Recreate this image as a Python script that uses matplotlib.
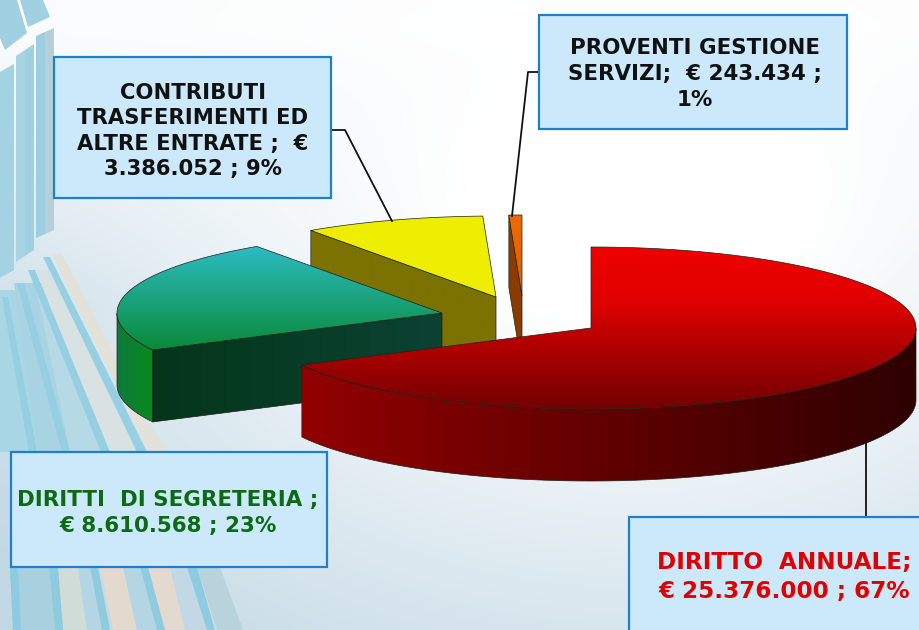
import numpy as np
import matplotlib
matplotlib.use("Agg")
import matplotlib.pyplot as plt
from matplotlib.colors import LinearSegmentedColormap
from matplotlib.patches import Polygon, Rectangle

# chart values, clockwise from 12 o'clock
categories = ["DIRITTO ANNUALE", "DIRITTI DI SEGRETERIA",
              "CONTRIBUTI TRASFERIMENTI ED ALTRE ENTRATE", "PROVENTI GESTIONE SERVIZI"]
values = [25376000, 8610568, 3386052, 243434]
labels = ["DIRITTO  ANNUALE;\n€ 25.376.000 ; 67%",
          "DIRITTI  DI SEGRETERIA ;\n€ 8.610.568 ; 23%",
          "CONTRIBUTI\nTRASFERIMENTI ED\nALTRE ENTRATE ;  €\n3.386.052 ; 9%",
          "PROVENTI GESTIONE\nSERVIZI;  € 243.434 ;\n1%"]

# layout in pixels
W, H = 919, 630
RX, RY, DEPTH = 325, 81, 72
apexes = [(591, 328), (442, 313), (496, 297), (522, 296)]
top_cols = [("#ee0000", "#e00000", "#a80000", "#720000"), ("#2cbcc4", "#0a8a38"),
            ("#eeee00", "#eeee00"), ("#ee6a00", "#e06000")]
face_cols = [("#8e0000", "#8e0000"), ("#04361a", "#0b4232"), ("#7c7200", "#7c7200"), ("#8a3c00", "#8a3c00")]
rim_cols = [("#920000", "#2e0000"), ("#0d7a3c", "#0a8a1e"), ("#7c7200", "#7c7200"), ("#8a3c00", "#8a3c00")]
draw_order = [2, 3, 1, 0]

boxes = [(629, 517, 300, 125), (11, 452, 316, 115), (54, 57, 277, 141), (539, 15, 308, 114)]
text_pos = [(784, 577), (168, 513), (193, 131), (695, 74)]
text_cols = ["#e00000", "#0b6a12", "#111111", "#111111"]
text_size = [16.7, 15.4, 15.2, 15.4]
text_spacing = [1.36, 1.38, 1.32, 1.36]
leaders = [([866, 866], [442, 517]), ([331, 345, 392], [130, 130, 221]), ([539, 528, 512], [72, 72, 216])]

# background streaks: x left/right at top, y top, x left/right at bottom, y bottom, colour
streaks = [
    (0, 16, 290, 0, 62, 452, "#a9d6e4"), (14, 38, 283, 38, 70, 452, "#a8d3e2"),
    (35, 52, 283, 70, 108, 452, "#b5d9e5"), (36, 52, 270, 106, 140, 452, "#d8e2e2"),
    (52, 62, 254, 148, 165, 452, "#e3e2da"),
    (2, 8, 297, 29, 37, 452, "#95cfe1"), (17, 24, 283, 62, 70, 452, "#95cfe1"),
    (28, 35, 270, 101, 110, 452, "#95cfe1"), (43, 50, 257, 137, 147, 452, "#95cfe1"),
    (10, 49, 567, 13, 55, 630, "#a8d0df"), (10, 18, 567, 13, 21, 630, "#8fcbdf"),
    (58, 78, 567, 63, 87, 630, "#cfdcd8"), (78, 90, 567, 87, 102, 630, "#b4d5e4"),
    (100, 123, 567, 113, 137, 630, "#e3d9cf"), (123, 140, 567, 137, 157, 630, "#b4d5e4"),
    (148, 170, 567, 165, 185, 630, "#e3d9cf"), (170, 187, 567, 185, 207, 630, "#c2d8e4"),
    (197, 220, 567, 217, 243, 630, "#b9d3dc"),
    (49, 58, 567, 55, 63, 630, "#8fcbdf"), (90, 98, 567, 102, 110, 630, "#8fcbdf"),
    (140, 148, 567, 157, 165, 630, "#8fcbdf"), (187, 197, 567, 207, 215, 630, "#8fcbdf"),
]
strips = [
    ([(0, 0), (17, 0), (27, 33), (5, 50), (0, 38)], "#a0d0e2"),
    ([(20, 0), (43, 0), (50, 17), (28, 27)], "#a0d0e2"),
    ([(36, 36), (45, 32), (45, 234), (36, 238)], "#9ccde0"),
    ([(45, 32), (54, 28), (54, 230), (45, 234)], "#b5d0db"),
    ([(16, 56), (25, 50), (25, 256), (16, 262)], "#a7d3e3"),
    ([(25, 50), (34, 44), (34, 250), (25, 256)], "#a0cfe0"),
    ([(0, 72), (14, 64), (14, 270), (0, 278)], "#a3d2e3"),
]

fig = plt.figure(figsize=(W / 100, H / 100), dpi=100)
ax = fig.add_axes([0, 0, 1, 1])
ax.set_xlim(0, W)
ax.set_ylim(H, 0)
ax.axis("off")


def gradient_fill(pts, cols, horizontal, z):
    ax.add_patch(Polygon(pts, closed=True, facecolor="none", edgecolor="#20201a", lw=0.5, zorder=z + 0.1))
    cmap = LinearSegmentedColormap.from_list("g", cols)
    xs, ys = pts[:, 0], pts[:, 1]
    grad = np.linspace(0, 1, 256)
    grad = grad.reshape(1, -1) if horizontal else grad.reshape(-1, 1)
    im = ax.imshow(grad, cmap=cmap, aspect="auto", zorder=z,
                   extent=(xs.min(), xs.max(), ys.max(), ys.min()))
    im.set_clip_path(Polygon(pts, closed=True, transform=ax.transData))


def draw_background():
    yy, xx = np.mgrid[0:H:80j, 0:W:120j]
    d = np.hypot((xx - 640) / 760, (yy - 200) / 560)
    t = np.clip(d - 0.22, 0, 1) * np.clip(yy / 300, 0.1, 1)
    cmap = LinearSegmentedColormap.from_list("bg", ["#ffffff", "#c2d8e4"])
    ax.imshow(t, cmap=cmap, vmin=0, vmax=0.85, extent=(0, W, H, 0), aspect="auto", zorder=0,
              interpolation="bilinear")
    for pts, col in strips:
        ax.add_patch(Polygon(pts, facecolor=col, edgecolor="none", zorder=1))
    for xl0, xr0, y0, xl1, xr1, y1, col in streaks:
        ax.add_patch(Polygon([(xl0, y0), (xr0, y0), (xr1, y1), (xl1, y1)],
                             facecolor=col, edgecolor="none", zorder=1))


def draw_slice(i, a0, a1, z):
    cx, cy = apexes[i]
    ang = np.radians(np.linspace(a0, a1, 200))
    arc = np.c_[cx + RX * np.cos(ang), cy - RY * np.sin(ang)]
    # outer rim, only the part facing the viewer
    front = np.sin(ang) <= 0
    if front.any():
        rim = arc[front]
        gradient_fill(np.r_[rim, (rim + [0, DEPTH])[::-1]], rim_cols[i], True, z)
    # cut side facing the viewer
    if np.sin(np.radians(a0 + 90)) < 0:
        edge = arc[0]
        pts = np.array([edge, (cx, cy), (cx, cy + DEPTH), edge + [0, DEPTH]])
        gradient_fill(pts, face_cols[i], True, z + 0.2)
    top = np.r_[[(cx, cy)], arc]
    gradient_fill(top, top_cols[i], False, z + 0.4)


draw_background()

total = sum(values)
sweeps = [360 * v / total for v in values]
starts = 90 - np.r_[0, np.cumsum(sweeps)[:-1]]
for n, i in enumerate(draw_order):
    draw_slice(i, starts[i], starts[i] - sweeps[i], 2 + n)

for xs, ys in leaders:
    ax.plot(xs, ys, color="#111111", lw=1.3, zorder=8)

for i in range(4):
    x, y, w, h = boxes[i]
    ax.add_patch(Rectangle((x, y), w, h, facecolor="#cce9fb", edgecolor="#1f7fcf", lw=1.6, zorder=9))
    ax.text(*text_pos[i], labels[i], ha="center", va="center", color=text_cols[i],
            fontsize=text_size[i], fontfamily="DejaVu Sans", fontweight="bold",
            linespacing=text_spacing[i], zorder=10)

fig.savefig("out.png", dpi=100)
